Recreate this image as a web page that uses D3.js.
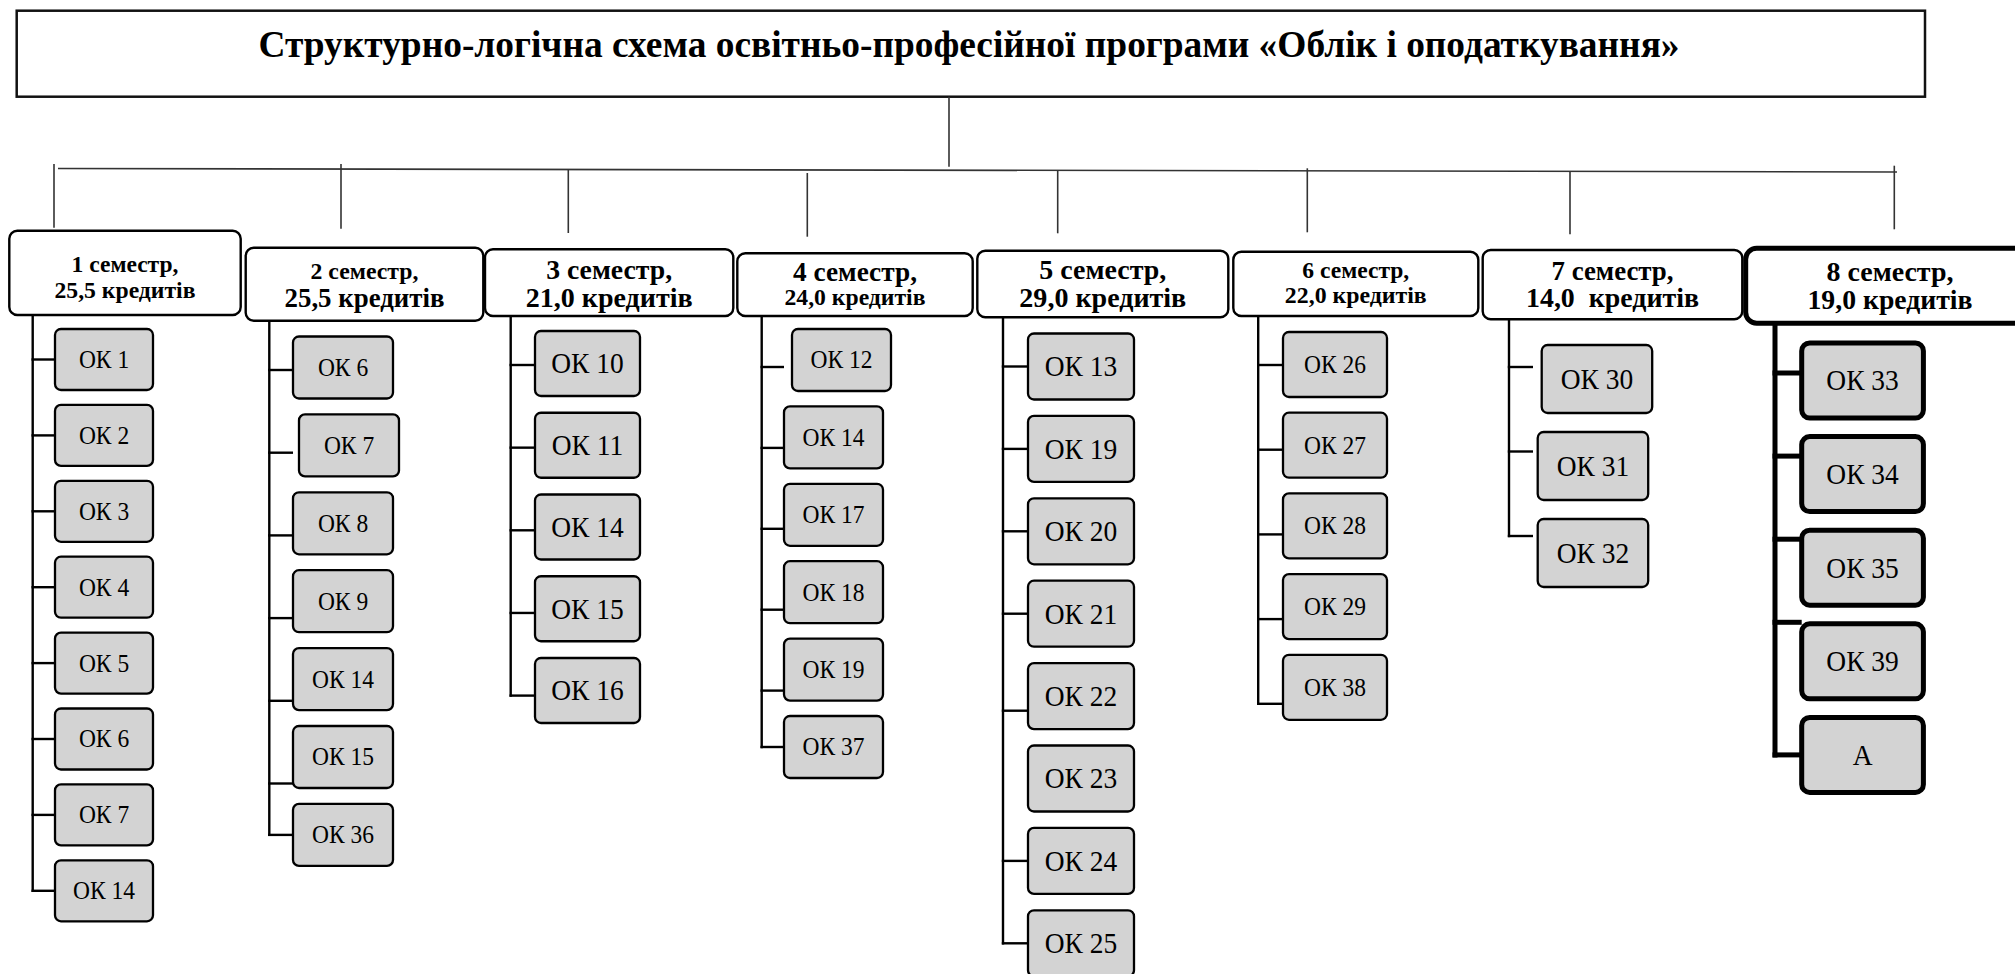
<!DOCTYPE html>
<html>
<head>
<meta charset="utf-8">
<script src="https://cdn.jsdelivr.net/npm/d3@7"></script>
<style>
  html, body { margin: 0; padding: 0; background: #fff; }
  svg { display: block; }
</style>
</head>
<body>
<div id="chart"></div>
<script>
// Дані схеми ------------------------------------------------------------------------------
const title = 'Структурно-логічна схема освітньо-професійної програми «Облік і оподаткування»';
const semesters = ['1 семестр,', '2 семестр,', '3 семестр,', '4 семестр,',
  '5 семестр,', '6 семестр,', '7 семестр,', '8 семестр,'];
const credits = ['25,5 кредитів', '25,5 кредитів', '21,0 кредитів', '24,0 кредитів',
  '29,0 кредитів', '22,0 кредитів', '14,0  кредитів', '19,0 кредитів'];
const courses1 = ['ОК 1', 'ОК 2', 'ОК 3', 'ОК 4', 'ОК 5', 'ОК 6', 'ОК 7', 'ОК 14'];
const courses2 = ['ОК 6', 'ОК 7', 'ОК 8', 'ОК 9', 'ОК 14', 'ОК 15', 'ОК 36'];
const courses3 = ['ОК 10', 'ОК 11', 'ОК 14', 'ОК 15', 'ОК 16'];
const courses4 = ['ОК 12', 'ОК 14', 'ОК 17', 'ОК 18', 'ОК 19', 'ОК 37'];
const courses5 = ['ОК 13', 'ОК 19', 'ОК 20', 'ОК 21', 'ОК 22', 'ОК 23', 'ОК 24', 'ОК 25'];
const courses6 = ['ОК 26', 'ОК 27', 'ОК 28', 'ОК 29', 'ОК 38'];
const courses7 = ['ОК 30', 'ОК 31', 'ОК 32'];
const courses8 = ['ОК 33', 'ОК 34', 'ОК 35', 'ОК 39', 'А'];
const courses = [courses1, courses2, courses3, courses4, courses5, courses6, courses7, courses8];

// Розмітка колонок (положення й розміри) ----------------------------------------------------
const W = 2015, H = 974;
const font = '"Liberation Serif", "Times New Roman", serif';
const layout = [
  { hx0: 9.3, hx1: 240.7, hy0: 230.7, hy1: 315, drop: [54, 164, 227.7], trunkX: 32.7,
    bx: 55, bw: 98, by0: 329, pitch: 75.9, bh: 61, off0: 30.5, drift: 0,
    big: false, l1: [107, 272], l2: [141, 298] },
  { hx0: 245.7, hx1: 483.3, hy0: 247.7, hy1: 320.7, drop: [341, 164, 228.7], trunkX: 269.3,
    bx: 293, bw: 100, by0: 336.5, pitch: 77.9, bh: 62, off0: 33.5, drift: 4.8, lastOff: 31,
    nudge: { 1: 6 }, big: false, l1: [108, 279], l2: [160, 307] },
  { hx0: 485, hx1: 733.3, hy0: 249.3, hy1: 316, drop: [568.3, 170, 233], trunkX: 510.7,
    bx: 535, bw: 105, by0: 331, pitch: 81.75, bh: 65, off0: 34, drift: 0.9,
    big: true, l1: [126, 279], l2: [167, 307] },
  { hx0: 737.3, hx1: 972.7, hy0: 253.3, hy1: 316, drop: [807.3, 173, 236.7], trunkX: 761.7,
    bx: 784, bw: 99, by0: 329, pitch: 77.4, bh: 62, off0: 38, drift: 3.5, lastOff: 31,
    nudge: { 0: 8 }, big: false, l1: [124, 281], l2: [141, 305] },
  { hx0: 977.3, hx1: 1228.3, hy0: 250.7, hy1: 317.3, drop: [1057.7, 170.7, 233.3], trunkX: 1003,
    bx: 1028, bw: 106, by0: 333.5, pitch: 82.4, bh: 66, off0: 33, drift: 0,
    connAdj: { 4: 47.6 }, noLink: [5], big: true, l1: [127, 279], l2: [167, 307] },
  { hx0: 1233.3, hx1: 1478.3, hy0: 251.7, hy1: 316, drop: [1307.3, 168.3, 232.3], trunkX: 1258.2,
    bx: 1283, bw: 104, by0: 332, pitch: 80.7, bh: 65, off0: 33, drift: 4,
    big: false, l1: [107, 278], l2: [142, 303] },
  { hx0: 1482.7, hx1: 1742.3, hy0: 250, hy1: 319.3, drop: [1570, 171.7, 234.3], trunkX: 1509,
    bx: 1537.7, bw: 110.5, by0: 345, pitch: 87, bh: 68, off0: 22, drift: -2.5, gap: 4.7,
    nudge: { 0: 4 }, big: true, l1: [122, 280], l2: [173, 307] },
  { hx0: 1745.7, hx1: 2045, hy0: 248.3, hy1: 323.3, drop: [1894.3, 165.7, 229.3], trunkX: 1775,
    bx: 1801.7, bw: 121.7, by0: 343, pitch: 93.6, bh: 75, off0: 30, drift: -10.5, lastOff: 37.5,
    bold: true, tx: 1890, big: true, l1: [127, 281], l2: [165, 309] }
];

// SVG -------------------------------------------------------------------------------------
const svg = d3.select('#chart').append('svg')
  .attr('width', W)
  .attr('height', H)
  .style('background', '#fff');

// підгонка ширини тексту під зразок
const fitWidth = (sel, targetW) => {
  const fs = parseFloat(sel.attr('font-size'));
  const w = sel.node().getComputedTextLength();
  sel.attr('font-size', fs * targetW / w);
  return fs * targetW / w;
};
const CAP = 0.655;

// Заголовок -------------------------------------------------------------------------------
svg.append('rect')
  .attr('x', 16.7).attr('y', 10.7)
  .attr('width', 1925 - 16.7).attr('height', 96.7 - 10.7)
  .attr('fill', '#fff')
  .attr('stroke', '#111')
  .attr('stroke-width', 2.5);
const titleText = svg.append('text')
  .attr('font-family', font)
  .attr('font-weight', 'bold')
  .attr('font-size', 36)
  .attr('text-anchor', 'middle')
  .attr('fill', '#000')
  .text(title);
const titleFs = fitWidth(titleText, 1422);
titleText.attr('transform', `translate(969,56.7) scale(1,${25 / (CAP * titleFs)})`);

// Лінії від заголовка до семестрів -----------------------------------------------------------
const busX = [58, 1897];
const busY = d3.scaleLinear().domain(busX).range([168.5, 172]);
const thin = { stroke: '#333', width: 1.6 };
svg.append('line')
  .attr('x1', 949).attr('x2', 949)
  .attr('y1', 96.7).attr('y2', 166.7)
  .attr('stroke', thin.stroke).attr('stroke-width', thin.width);
svg.append('line')
  .attr('x1', busX[0]).attr('x2', busX[1])
  .attr('y1', busY(busX[0])).attr('y2', busY(busX[1]))
  .attr('stroke', thin.stroke).attr('stroke-width', thin.width);
svg.append('g').selectAll('line')
  .data(layout)
  .join('line')
  .attr('x1', d => d.drop[0]).attr('x2', d => d.drop[0])
  .attr('y1', d => d.drop[1]).attr('y2', d => d.drop[2])
  .attr('stroke', thin.stroke).attr('stroke-width', thin.width);

// Колонки семестрів -------------------------------------------------------------------------
const colScale = d3.scaleOrdinal().domain(semesters).range(layout);

semesters.forEach((sem, i) => {
  const c = colScale(sem);
  const items = courses[i];
  const n = items.length;
  const sw = c.bold ? 5 : 2.4;
  const g = svg.append('g').attr('class', 'semester');
  const yRow = d3.scaleLinear().domain([0, 1]).range([c.by0, c.by0 + c.pitch]);
  const connY = j => {
    if (c.connAdj && c.connAdj[j] != null) return yRow(j) + c.connAdj[j];
    if (j === n - 1 && c.lastOff != null) return yRow(j) + c.lastOff;
    return yRow(j) + c.off0 + j * c.drift;
  };
  const lastY = connY(n - 1);

  // стовбур і відгалуження
  g.append('line')
    .attr('x1', c.trunkX).attr('x2', c.trunkX)
    .attr('y1', c.hy1).attr('y2', lastY + sw / 2)
    .attr('stroke', '#000').attr('stroke-width', sw);
  g.selectAll('line.branch')
    .data(d3.range(n).filter(j => !(c.noLink || []).includes(j)))
    .join('line')
    .attr('class', 'branch')
    .attr('x1', c.trunkX - sw / 2).attr('x2', c.bx - (c.gap || 0))
    .attr('y1', j => connY(j)).attr('y2', j => connY(j))
    .attr('stroke', '#000').attr('stroke-width', sw);

  // шапка семестру: два рядки в одному тексті
  g.append('rect')
    .attr('x', c.hx0).attr('y', c.hy0)
    .attr('width', c.hx1 - c.hx0).attr('height', c.hy1 - c.hy0)
    .attr('rx', c.bold ? 11 : 8)
    .attr('fill', '#fff')
    .attr('stroke', '#000')
    .attr('stroke-width', sw);
  const tx = c.tx != null ? c.tx : (c.hx0 + c.hx1) / 2;
  const head = g.append('text')
    .attr('font-family', font)
    .attr('font-weight', 'bold')
    .attr('text-anchor', 'middle')
    .attr('fill', '#000')
    .style('white-space', 'pre');
  [[sem, c.l1], [credits[i], c.l2]].forEach(([txt, spec]) => {
    const t = head.append('tspan')
      .attr('x', tx)
      .attr('y', spec[1])
      .attr('font-size', 26)
      .text(txt);
    fitWidth(t, spec[0]);
  });

  // дисципліни
  const ref = g.append('text')
    .attr('font-family', font)
    .attr('font-size', 30)
    .text('ОК 14');
  const fs = 30 * (c.big ? 72.5 : 62) / ref.node().getComputedTextLength();
  ref.remove();
  const sy = 1.1;

  const box = g.selectAll('g.course')
    .data(items.map((label, j) => ({ label, j })))
    .join('g')
    .attr('class', 'course')
    .attr('transform', d => `translate(${c.bx + ((c.nudge || {})[d.j] || 0)},${yRow(d.j)})`);
  box.append('rect')
    .attr('width', c.bw)
    .attr('height', c.bh)
    .attr('rx', c.bold ? 8 : 6)
    .attr('fill', '#d3d3d3')
    .attr('stroke', '#000')
    .attr('stroke-width', c.bold ? 5 : 2.3);
  box.append('text')
    .attr('font-family', font)
    .attr('font-size', fs)
    .attr('text-anchor', 'middle')
    .attr('fill', '#000')
    .attr('transform', `translate(${c.bw / 2},${c.bh / 2 + CAP * fs * sy / 2}) scale(1,${sy})`)
    .text(d => d.label);
});
</script>
</body>
</html>
